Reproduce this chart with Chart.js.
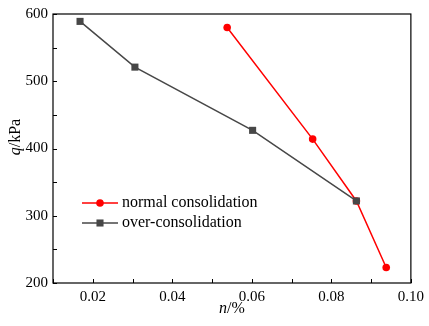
<!DOCTYPE html>
<html>
<head>
<meta charset="utf-8">
<script src="https://cdn.jsdelivr.net/npm/chart.js@4"></script>
<style>
html,body{margin:0;padding:0;background:#fff;}
#wrap{width:429px;height:326px;position:relative;}
</style>
</head>
<body>
<div id="wrap"><canvas id="c"></canvas></div>
<script>
// ---- data ----
const normalN = [0.0538, 0.0753, 0.0863, 0.0938];
const normalQ = [580, 414, 322, 223];
const overN = [0.0168, 0.0306, 0.0602, 0.0863];
const overQ = [589, 521, 427, 322];
const seriesLabels = ['normal consolidation', 'over-consolidation'];
const xMajorTicks = [0.02, 0.04, 0.06, 0.08, 0.10];
const yMajorTicks = [200, 300, 400, 500, 600];

const FONT = '"Liberation Serif", "Times New Roman", serif';
const RED = '#ff0000';
const GRAY = '#474747';

function pts(xs, ys){ return xs.map((x,i)=>({x:x, y:ys[i]})); }

const framePlugin = {
  id: 'frame',
  afterDraw(chart){
    const ctx = chart.ctx;
    const a = chart.chartArea;
    const xs = chart.scales.x, ys = chart.scales.y;
    ctx.save();
    ctx.strokeStyle = '#000';
    ctx.lineWidth = 1.2;
    ctx.strokeRect(a.left, a.top, a.right - a.left, a.bottom - a.top);
    // inside ticks
    ctx.lineWidth = 1;
    for (let v = 0.01; v < 0.1001; v += 0.01){
      const px = Math.round(xs.getPixelForValue(v)) + 0.5;
      ctx.beginPath(); ctx.moveTo(px, a.bottom); ctx.lineTo(px, a.bottom - 4); ctx.stroke();
    }
    for (let v = 200; v <= 600; v += 50){
      const py = Math.round(ys.getPixelForValue(v)) + 0.5;
      ctx.beginPath(); ctx.moveTo(a.left, py); ctx.lineTo(a.left + 4, py); ctx.stroke();
    }
    // axis titles
    ctx.fillStyle = '#000';
    ctx.textBaseline = 'alphabetic';
    ctx.textAlign = 'left';
    const TS = 16;
    // x title n/%
    ctx.font = 'italic ' + TS + 'px ' + FONT;
    const w1 = ctx.measureText('n').width;
    ctx.font = TS + 'px ' + FONT;
    const w2 = ctx.measureText('/%').width;
    const cx = (a.left + a.right) / 2;
    const sx = cx - (w1 + w2) / 2;
    ctx.font = 'italic ' + TS + 'px ' + FONT;
    ctx.fillText('n', sx, 313);
    ctx.font = TS + 'px ' + FONT;
    ctx.fillText('/%', sx + w1, 313);
    // y title q/kPa
    ctx.save();
    ctx.translate(19.5, 137);
    ctx.rotate(-Math.PI / 2);
    ctx.font = 'italic ' + TS + 'px ' + FONT;
    const yw1 = ctx.measureText('q').width;
    ctx.font = TS + 'px ' + FONT;
    const yw2 = ctx.measureText('/kPa').width;
    const sy = -(yw1 + yw2) / 2;
    ctx.font = 'italic ' + TS + 'px ' + FONT;
    ctx.fillText('q', sy, 0);
    ctx.font = TS + 'px ' + FONT;
    ctx.fillText('/kPa', sy + yw1, 0);
    ctx.restore();
    // legend
    const ds = chart.data.datasets;
    const lx = 82, lw = 36;
    const rows = [203, 223];
    ds.forEach((d, i) => {
      const y = rows[i];
      ctx.strokeStyle = d.borderColor;
      ctx.lineWidth = d.borderWidth;
      ctx.beginPath(); ctx.moveTo(lx, y); ctx.lineTo(lx + lw, y); ctx.stroke();
      ctx.fillStyle = d.pointBackgroundColor;
      if (d.pointStyle === 'circle'){
        ctx.beginPath(); ctx.arc(lx + lw/2, y, d.pointRadius, 0, Math.PI*2); ctx.fill();
      } else {
        const s = d.pointRadius * Math.SQRT1_2;
        ctx.fillRect(lx + lw/2 - s, y - s, 2*s, 2*s);
      }
      ctx.fillStyle = '#000';
      ctx.font = '16px ' + FONT;
      ctx.textBaseline = 'middle';
      ctx.textAlign = 'left';
      ctx.fillText(d.label, lx + lw + 4, y);
    });
    ctx.restore();
  }
};

new Chart(document.getElementById('c'), {
  type: 'scatter',
  data: {
    datasets: [
      {
        label: seriesLabels[0],
        data: pts(normalN, normalQ),
        showLine: true,
        order: 1,
        borderColor: RED,
        backgroundColor: RED,
        pointBackgroundColor: RED,
        pointBorderColor: RED,
        borderWidth: 1.5,
        pointStyle: 'circle',
        pointRadius: 3.8,
        pointBorderWidth: 0
      },
      {
        label: seriesLabels[1],
        data: pts(overN, overQ),
        showLine: true,
        order: 0,
        borderColor: GRAY,
        backgroundColor: GRAY,
        pointBackgroundColor: GRAY,
        pointBorderColor: GRAY,
        borderWidth: 1.5,
        pointStyle: 'rect',
        pointRadius: 5,
        pointBorderWidth: 0
      }
    ]
  },
  options: {
    responsive: true,
    maintainAspectRatio: false,
    animation: false,
    layout: { padding: { left: 0, top: 7, right: 16, bottom: 0 } },
    plugins: { legend: { display: false }, tooltip: { enabled: false } },
    scales: {
      x: {
        type: 'linear', min: 0.01, max: 0.10,
        afterFit(s){ s.height = 43; },
        afterBuildTicks(s){ s.ticks = xMajorTicks.map(v => ({value: v})); },
        grid: { display: false, drawTicks: false },
        border: { display: false },
        ticks: {
          color: '#000', font: { family: FONT, size: 15 }, padding: 5,
          maxRotation: 0, autoSkip: false,
          callback: v => v.toFixed(2)
        }
      },
      y: {
        type: 'linear', min: 200, max: 600,
        afterFit(s){ s.width = 53; },
        afterBuildTicks(s){ s.ticks = yMajorTicks.map(v => ({value: v})); },
        grid: { display: false, drawTicks: false },
        border: { display: false },
        ticks: {
          color: '#000', font: { family: FONT, size: 15 }, padding: 5,
          callback: v => String(v)
        }
      }
    }
  },
  plugins: [framePlugin]
});
</script>
</body>
</html>
